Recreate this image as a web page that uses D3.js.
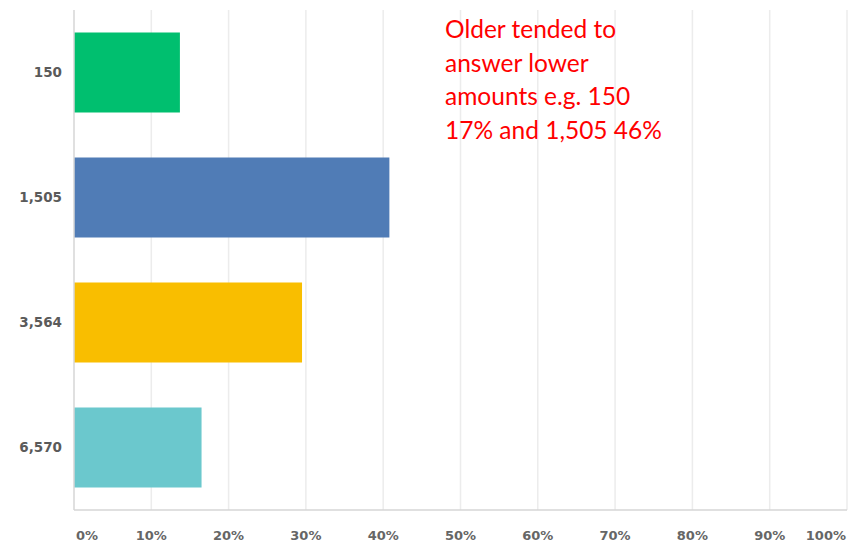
<!DOCTYPE html>
<html>
<head>
<meta charset="utf-8">
<script src="https://cdn.jsdelivr.net/npm/d3@7/dist/d3.min.js"></script>
<style>
  html, body { margin: 0; padding: 0; background: #fff; }
  svg { display: block; }
</style>
</head>
<body>
<svg id="chart" width="848" height="546"></svg>
<script>
// Answer options and share of respondents (%)
const categories = ["150", "1,505", "3,564", "6,570"];
const shares = [13.7, 40.8, 29.5, 16.5];
const barColors = ["#00bf6f", "#507cb6", "#f9be00", "#6bc8cd"];
const tickValues = [0, 10, 20, 30, 40, 50, 60, 70, 80, 90, 100];
const noteLines = ["Older tended to", "answer lower", "amounts e.g. 150", "17% and 1,505 46%"];

const svg = d3.select("#chart");
const plotLeft = 74, plotRight = 847, plotTop = 10, plotBottom = 510;
const labelFont = "'DejaVu Sans', Verdana, sans-serif";

const x = d3.scaleLinear().domain([0, 100]).range([plotLeft, plotRight]);
const y = d3.scaleBand().domain(categories).range([plotTop, plotBottom])
  .paddingInner(0.36).paddingOuter(0.18);

// vertical gridlines
svg.append("g").selectAll("line").data(tickValues.slice(1)).join("line")
  .attr("x1", d => x(d)).attr("x2", d => x(d))
  .attr("y1", plotTop).attr("y2", plotBottom)
  .attr("stroke", "#ececec").attr("stroke-width", 1.5);

// bars
svg.append("g").selectAll("rect").data(categories).join("rect")
  .attr("x", x(0))
  .attr("y", d => y(d))
  .attr("width", (d, i) => x(shares[i]) - x(0))
  .attr("height", y.bandwidth())
  .attr("fill", (d, i) => barColors[i]);

// axis lines
svg.append("line").attr("x1", x(0)).attr("x2", x(0)).attr("y1", plotTop).attr("y2", plotBottom)
  .attr("stroke", "#d6d6d6").attr("stroke-width", 1.5);
svg.append("line").attr("x1", x(0)).attr("x2", plotRight).attr("y1", plotBottom).attr("y2", plotBottom)
  .attr("stroke", "#d6d6d6").attr("stroke-width", 1.5);

// category labels
svg.append("g").selectAll("text").data(categories).join("text")
  .attr("x", 62)
  .attr("y", d => y(d) + y.bandwidth() / 2)
  .attr("dy", "0.35em")
  .attr("text-anchor", "end")
  .attr("font-family", labelFont)
  .attr("font-weight", "bold")
  .attr("font-size", 13.5)
  .attr("fill", "#5a5a5a")
  .text(d => d);

// percentage tick labels
const last = tickValues.length - 1;
svg.append("g").selectAll("text").data(tickValues).join("text")
  .attr("x", (d, i) => i === 0 ? x(d) + 2 : i === last ? x(d) - 1 : x(d))
  .attr("y", 535)
  .attr("dy", "0.35em")
  .attr("text-anchor", (d, i) => i === 0 ? "start" : i === last ? "end" : "middle")
  .attr("font-family", labelFont)
  .attr("font-weight", "bold")
  .attr("font-size", 13)
  .attr("fill", "#666")
  .text(d => d + "%");

// annotation
svg.append("g").selectAll("text").data(noteLines).join("text")
  .attr("x", 445)
  .attr("y", (d, i) => 38 + i * 33.5)
  .attr("font-family", "Lato, 'Open Sans', sans-serif")
  .attr("font-size", 24.5)
  .attr("fill", "#ff0000")
  .text(d => d);
</script>
</body>
</html>
